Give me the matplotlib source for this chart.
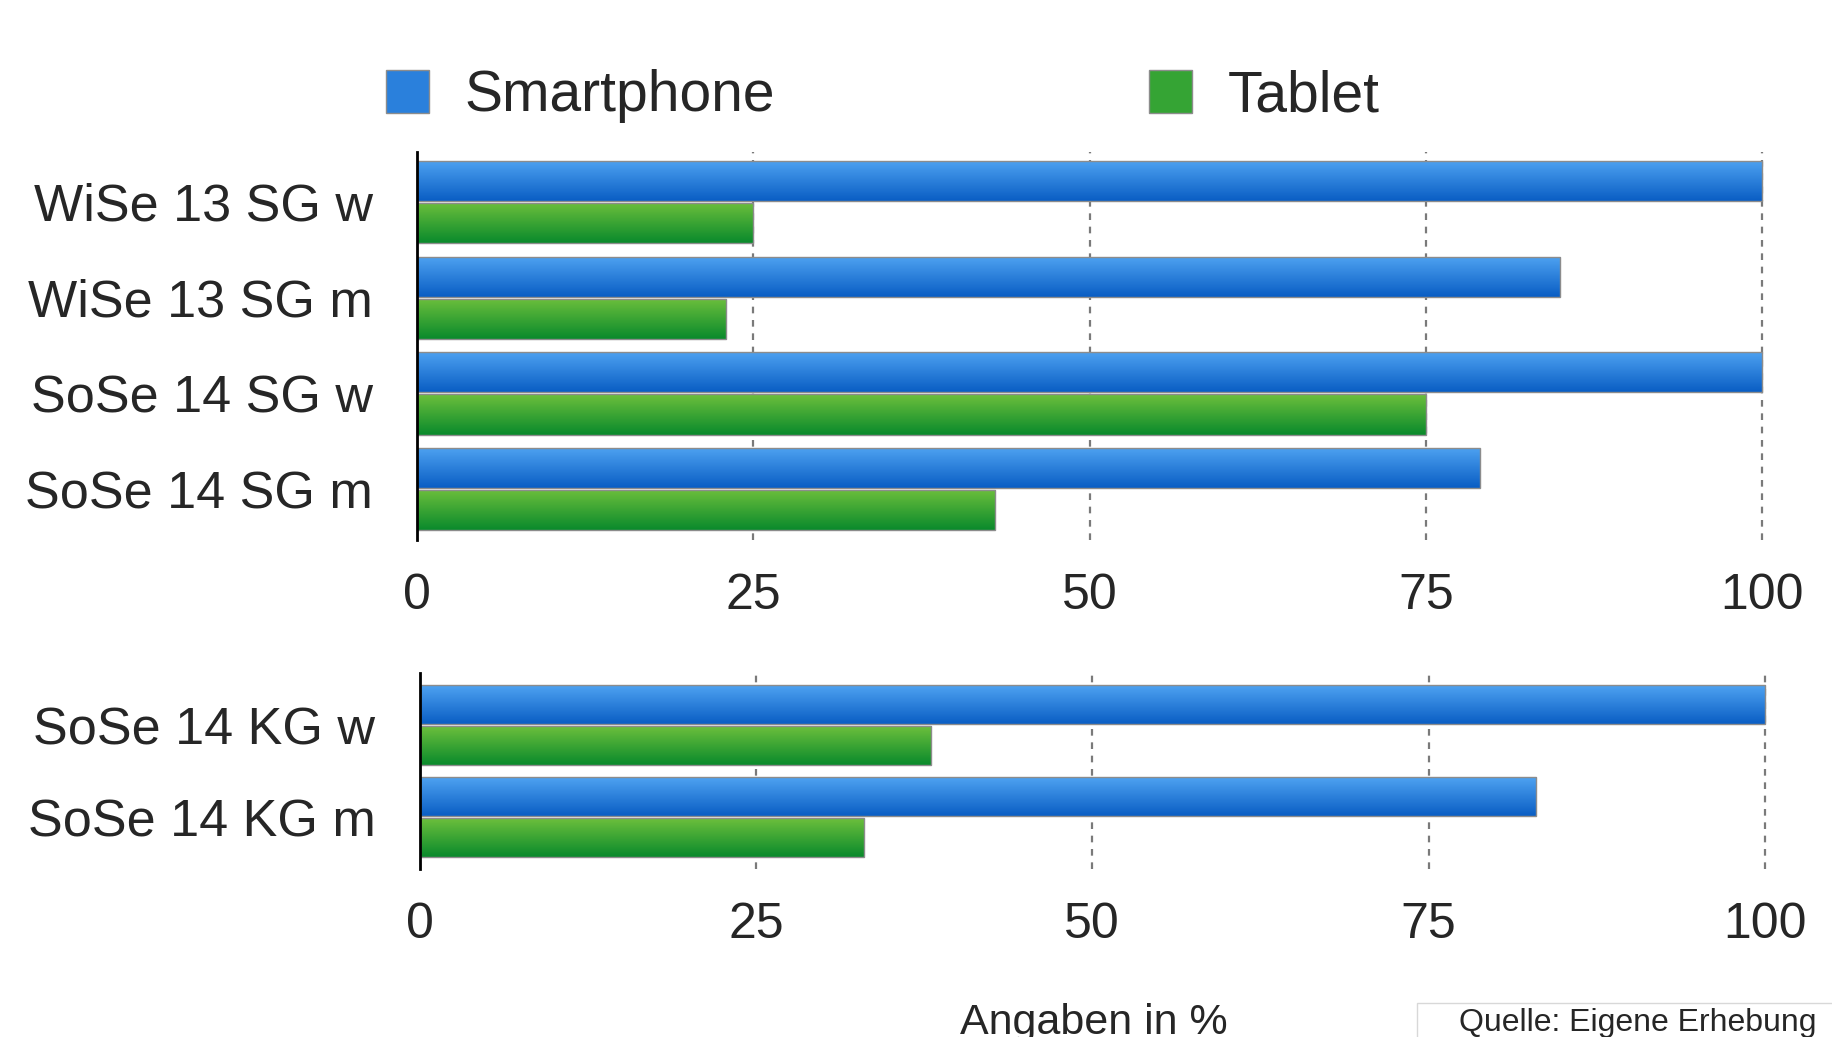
import numpy as np
import matplotlib.pyplot as plt
from matplotlib.patches import Patch, Rectangle
from matplotlib.colors import LinearSegmentedColormap

plt.rcParams['font.family'] = ['Liberation Sans', 'DejaVu Sans']

# data (Angaben in %)
top_labels = ['WiSe 13 SG w', 'WiSe 13 SG m', 'SoSe 14 SG w', 'SoSe 14 SG m']
top_smartphone = [100, 85, 100, 79]
top_tablet = [25, 23, 75, 43]

bottom_labels = ['SoSe 14 KG w', 'SoSe 14 KG m']
bottom_smartphone = [100, 83]
bottom_tablet = [38, 33]

xticks = [0, 25, 50, 75, 100]
series_names = ['Smartphone', 'Tablet']

blue = ('#4ea2f1', '#0a5ec4')
green = ('#6cbf3c', '#0a8a2c')
text_col = '#262626'


def gradient_bars(ax, bars, colors):
    cmap = LinearSegmentedColormap.from_list('grad', list(colors))
    grad = np.linspace(0, 1, 64).reshape(-1, 1)
    for b in bars:
        x, y = b.get_x(), b.get_y()
        w, h = b.get_width(), b.get_height()
        im = ax.imshow(grad, cmap=cmap, aspect='auto', extent=[x, x + w, y + h, y],
                       interpolation='bilinear', zorder=2)
        im.set_clip_path(b)
        b.set_facecolor('none')
        b.set_zorder(3)


def panel(ax, labels, smart, tablet, ylim):
    pos = np.arange(len(labels))
    h = 0.42
    off = 0.22
    b1 = ax.barh(pos - off, smart, height=h, color=blue[1], edgecolor='#8c8c8c', lw=1)
    b2 = ax.barh(pos + off, tablet, height=h, color=green[1], edgecolor='#8c8c8c', lw=1)
    gradient_bars(ax, b1, blue)
    gradient_bars(ax, b2, green)
    ax.set_xlim(0, 100.3)
    ax.set_ylim(*ylim)
    ax.set_yticks(pos)
    ax.set_yticklabels(labels, fontsize=37.5, color=text_col)
    ax.set_xticks(xticks)
    ax.set_xticklabels([str(t) for t in xticks], fontsize=36, color=text_col)
    ax.tick_params(axis='y', length=0, pad=32)
    ax.tick_params(axis='x', length=0, pad=24)
    for s in ['top', 'right', 'bottom']:
        ax.spines[s].set_visible(False)
    ax.spines['left'].set_linewidth(2)
    ax.spines['left'].set_zorder(4)
    ax.set_axisbelow(True)
    ax.xaxis.grid(True, linestyle=(0, (3, 3)), color='#7a7a7a', lw=1.6)


fig = plt.figure(figsize=(18.33, 10.37), dpi=100)
ax1 = fig.add_axes([0.2275, 0.4793, 0.736, 0.374])
ax2 = fig.add_axes([0.229, 0.162, 0.736, 0.189])

panel(ax1, top_labels, top_smartphone, top_tablet, (3.53, -0.52))
panel(ax2, bottom_labels, bottom_smartphone, bottom_tablet, (1.565, -0.565))

leg_kw = dict(loc='center left', frameon=False, borderpad=0, borderaxespad=0,
              handlelength=0.75, handleheight=0.78, handletextpad=0.62, fontsize=41,
              labelcolor=text_col)
fig.legend(handles=[Patch(facecolor='#2a80dc', edgecolor='#8c8c8c')], labels=[series_names[0]],
           bbox_to_anchor=(0.2106, 0.907), **leg_kw)
fig.legend(handles=[Patch(facecolor='#35a434', edgecolor='#8c8c8c')], labels=[series_names[1]],
           bbox_to_anchor=(0.627, 0.907), **leg_kw)

fig.text(0.597, 0.033, 'Angaben in %', ha='center', va='top', fontsize=31, color=text_col)
fig.add_artist(Rectangle((0.773, -0.05), 0.3, 0.083, transform=fig.transFigure,
                         facecolor='white', edgecolor='#d8d8d8', lw=1))
fig.text(0.796, 0.028, 'Quelle: Eigene Erhebung', ha='left', va='top', fontsize=23,
         color=text_col)

fig.savefig('out.png', dpi=100)
